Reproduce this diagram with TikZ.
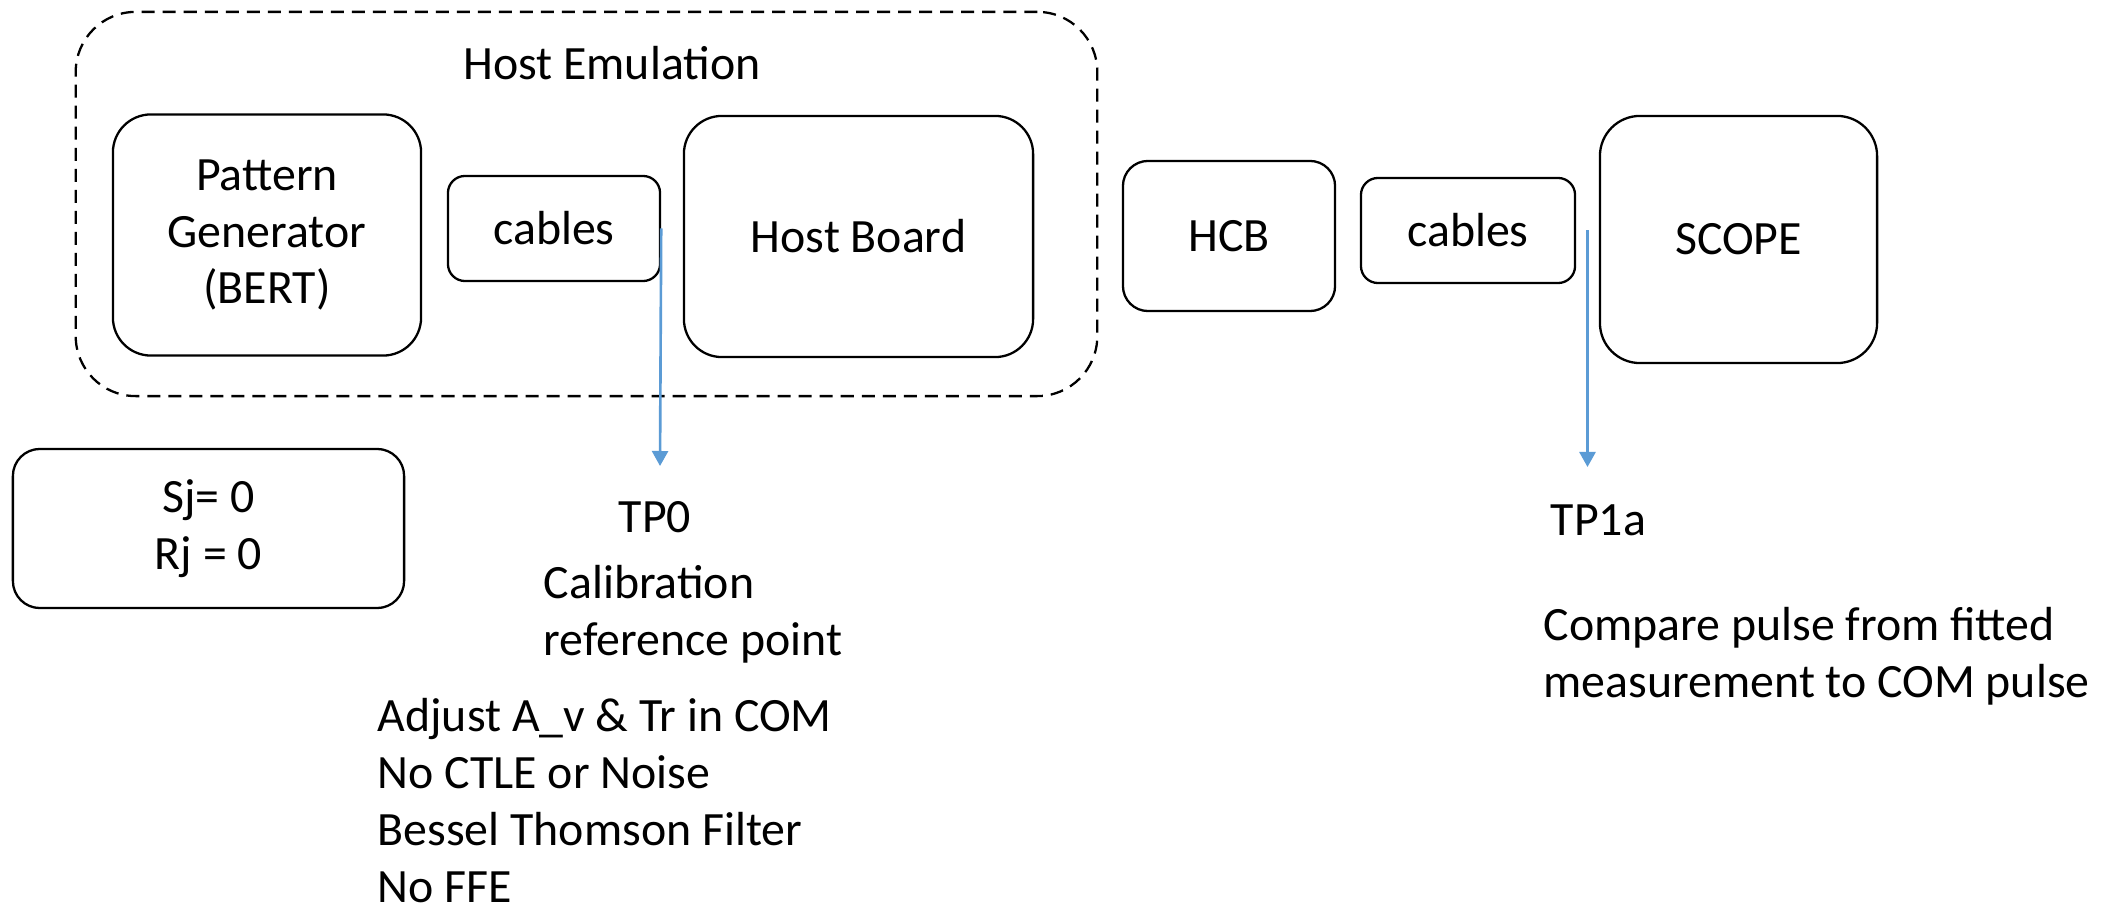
\documentclass[tikz,border=0pt]{standalone}
\usepackage{fontspec}
\setmainfont{Carlito}
\usetikzlibrary{arrows.meta,calc}
\definecolor{probeblue}{HTML}{5B9BD5}
\newcommand\diagfont{\fontsize{13.6pt}{16.2pt}\selectfont}
\begin{document}
\begin{tikzpicture}[x=0.01cm,y=-0.01cm,
  blockbox/.style={draw, line width=0.65pt, rounded corners=#1, align=center, inner sep=0pt, font=\diagfont},
  groupbox/.style={draw, dashed, dash pattern=on 0.13cm off 0.08cm, line width=0.65pt, rounded corners=0.6cm, inner sep=0pt},
  lbl/.style={inner sep=0pt, align=left, font=\diagfont},
  probe/.style={draw=probeblue, line width=0.75pt, -{Triangle[length=0.15cm, width=0.16cm]}}]
\useasboundingbox (0,0) rectangle (2113,907);

% host emulation group
\node[groupbox, minimum width=10.21cm, minimum height=3.84cm] (hostemu) at (586.5,204) {};
\node[lbl, anchor=base] (hostemulbl) at (612,80) {Host Emulation};

% blocks
\node[blockbox=0.38cm, minimum width=3.08cm, minimum height=2.41cm] (bert) at (267,235) {Pattern\\Generator\\(BERT)};
\node[blockbox=0.17cm, minimum width=2.12cm, minimum height=1.05cm] (cables1) at (554,228.5) {cables};
\node[blockbox=0.38cm, minimum width=3.49cm, minimum height=2.41cm] (hostboard) at (858.5,236.5) {Host Board};
\node[blockbox=0.25cm, minimum width=2.12cm, minimum height=1.50cm] (hcb) at (1229,236) {HCB};
\node[blockbox=0.17cm, minimum width=2.14cm, minimum height=1.05cm] (cables2) at (1468,230.5) {cables};
\node[blockbox=0.40cm, minimum width=2.77cm, minimum height=2.47cm] (scope) at (1738.5,239.5) {SCOPE};
\node[blockbox=0.27cm, minimum width=3.91cm, minimum height=1.59cm] (jitter) at (208.5,528.5) {Sj= 0\\Rj = 0};

% probe arrows
\coordinate (tp0tip) at (660,466);
\draw[probe] (cables1.east) -- (tp0tip);
\coordinate (tp1top) at ($(cables2.east)!0.5!(scope.west |- cables2.east)$);
\coordinate (tp1tip) at (1588,467);
\draw[probe] (tp1top) -- (tp1top |- tp1tip);

% labels (base anchor of a multi-line node = baseline of its last line)
\node[lbl, anchor=base west] (tp0) at (618,533) {TP0};
\node[lbl, anchor=base west] (calib) at (543,655) {Calibration\\reference point};
\node[lbl, anchor=base west] (adjust) at (377,902) {Adjust A\_v \& Tr in COM\\No CTLE or Noise\\Bessel Thomson Filter\\No FFE};
\node[lbl, anchor=base west] (tp1a) at (1550,535) {TP1a};
\node[lbl, anchor=base west] (compare) at (1543,697) {Compare pulse from fitted\\measurement to COM pulse};
\end{tikzpicture}
\end{document}
